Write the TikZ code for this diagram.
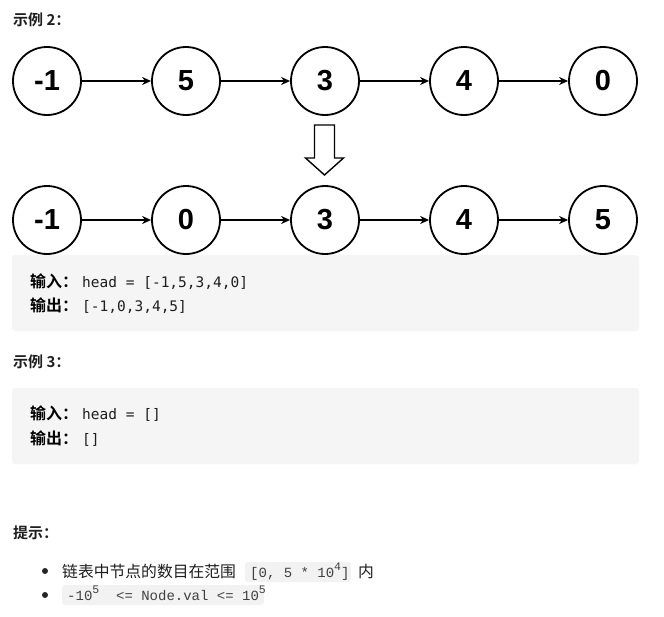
\documentclass[tikz,border=0pt]{standalone}
\usepackage{fontspec}
\setmainfont{Liberation Sans}
\newfontfamily\cjk{Noto Sans CJK SC}
\newfontfamily\cjkb{Noto Sans CJK SC Bold}
\newfontfamily\dmono{DejaVu Sans Mono}
\newfontfamily\lmono{Liberation Mono}
\usetikzlibrary{arrows.meta}
\definecolor{boxbg}{RGB}{245,245,245}
\definecolor{codebg}{RGB}{242,242,242}
\definecolor{txt}{RGB}{30,30,30}
\begin{document}
\begin{tikzpicture}[x=1pt,y=-1pt,
  lnode/.style={circle,draw=black,line width=1.8pt,minimum size=68pt,inner sep=0pt,
    font=\fontsize{29}{30}\selectfont\bfseries},
  arr/.style={line width=1.2pt,-{Stealth[length=9pt,width=8pt]}},
  hdr/.style={anchor=base west,inner sep=0pt,text=txt,font=\cjkb\fontsize{15}{15}\selectfont},
  lbl/.style={anchor=base west,inner sep=0pt,text=black,font=\cjkb\fontsize{16}{16}\selectfont},
  code/.style={anchor=base west,inner sep=0pt,text=txt,font=\dmono\fontsize{14.5}{15}\selectfont},
  tip/.style={anchor=base west,inner sep=0pt,text=txt,font=\cjk\fontsize{15.8}{16}\selectfont},
  icode/.style={anchor=base west,inner sep=0pt,text=txt!85,font=\lmono\fontsize{14}{14}\selectfont},
  panel/.style={fill=boxbg,draw=none,rounded corners=3pt},
  ipanel/.style={fill=codebg,draw=none,rounded corners=3pt}]
\newcommand{\supx}[1]{\raisebox{6.5pt}{\fontsize{11.5}{11}\selectfont #1}}
\useasboundingbox (0,0) rectangle (664,616);
\fill[white] (0,0) rectangle (664,616);

\node[hdr] (h2) at (13,25.5) {示例 2：};

% row 1
\node[lnode] (a1) at (47,81) {-1};
\node[lnode] (a2) at (186,81) {5};
\node[lnode] (a3) at (325,81) {3};
\node[lnode] (a4) at (464,81) {4};
\node[lnode] (a5) at (603,81) {0};
\draw[arr] (a1) -- (a2);
\draw[arr] (a2) -- (a3);
\draw[arr] (a3) -- (a4);
\draw[arr] (a4) -- (a5);

% block arrow
\draw[line width=1.4pt,fill=white,line join=miter]
  (314.5,125) -- (334.5,125) -- (334.5,158) -- (343.5,158) -- (324.5,175)
  -- (305.5,158) -- (314.5,158) -- cycle;

% row 2
\node[lnode] (b1) at (47,220) {-1};
\node[lnode] (b2) at (186,220) {0};
\node[lnode] (b3) at (325,220) {3};
\node[lnode] (b4) at (464,220) {4};
\node[lnode] (b5) at (603,220) {5};
\draw[arr] (b1) -- (b2);
\draw[arr] (b2) -- (b3);
\draw[arr] (b3) -- (b4);
\draw[arr] (b4) -- (b5);

% example 2 box
\fill[panel] (12,255) rectangle (639,331);
\node[lbl] (in2) at (30,287) {输入：};
\node[code] (in2c) at (82,287) {head = [-1,5,3,4,0]};
\node[lbl] (out2) at (30,311) {输出：};
\node[code] (out2c) at (82,311) {[-1,0,3,4,5]};

% example 3
\node[hdr] (h3) at (13,367) {示例 3：};
\fill[panel] (12,388) rectangle (639,464);
\node[lbl] (in3) at (30,419) {输入：};
\node[code] (in3c) at (82,419) {head = []};
\node[lbl] (out3) at (30,444) {输出：};
\node[code] (out3c) at (82,444) {[]};

% hints
\node[hdr] (hh) at (13,538) {提示：};
\fill[black!85] (45,571) circle (3pt);
\node[tip] (t1) at (62,577) {链表中节点的数目在范围};
\fill[ipanel] (245,562) rectangle (351,582);
\node[icode] (c1) at (250,577) {[0, 5 * 10\supx{4}]};
\node[tip] (t1b) at (358,577) {内};
\fill[black!85] (45,595) circle (3pt);
\fill[ipanel] (62,585) rectangle (264,605);
\node[icode] (c2) at (67,600) {-10\supx{5}\ \ <= Node.val <= 10\supx{5}};
\end{tikzpicture}
\end{document}
